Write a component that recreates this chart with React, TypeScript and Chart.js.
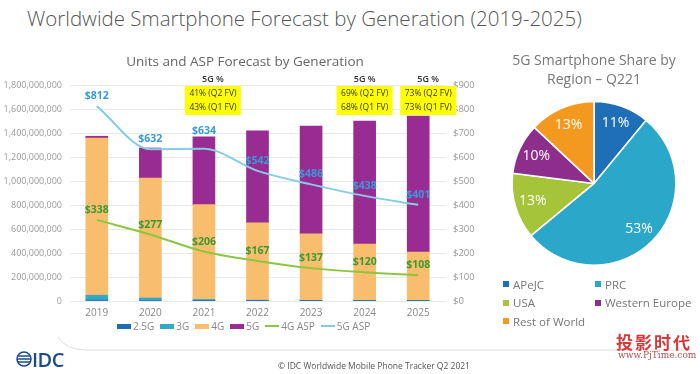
import React, { useEffect, useRef } from 'react';
import { Chart, registerables } from 'chart.js';

Chart.register(...registerables);
Chart.defaults.font.family = '"Open Sans", "DejaVu Sans", sans-serif';

// ---- data ----
const years = ['2019', '2020', '2021', '2022', '2023', '2024', '2025'];
// units in millions
const units25G = [8, 5, 3, 2, 2, 1, 1];
const units3G = [40, 20, 10, 5, 3, 2, 1];
const units4G = [1310, 1000, 790, 645, 555, 472, 405];
const units5G = [15, 250, 565, 767, 898, 1025, 1135];
const asp4G = [338, 277, 206, 167, 137, 120, 108];
const asp5G = [812, 632, 634, 542, 486, 438, 401];

const noteYears = ['2021', '2024', '2025'];
const noteQ2 = ['41% (Q2 FV)', '69% (Q2 FV)', '73% (Q2 FV)'];
const noteQ1 = ['43% (Q1 FV)', '68% (Q1 FV)', '73% (Q1 FV)'];
const noteShift = [9, 0, 10];

const regions = ['APeJC', 'PRC', 'USA', 'Western Europe', 'Rest of World'];
const regionShare = [11, 53, 13, 10, 13];

// ---- styles ----
const C25 = '#1f6db5';
const C3 = '#33a9c9';
const C4 = '#f9bd6e';
const C5 = '#992c93';
const CA4 = '#8cc63f';
const CA5 = '#86cde4';
const LBL4 = '#3d9a2f';
const LBL5 = '#3a9ad9';
const lift5G = [10, 10, 18, 10, 10, 10, 10];
const regionColors = ['#1e6fb8', '#2ba8c9', '#a6c43a', '#8d2d8c', '#f3991f'];

const legendItems = [
  { label: '2.5G', color: C25, line: false },
  { label: '3G', color: C3, line: false },
  { label: '4G', color: C4, line: false },
  { label: '5G', color: C5, line: false },
  { label: '4G ASP', color: CA4, line: true },
  { label: '5G ASP', color: CA5, line: true },
];

const aspLabelPlugin = {
  id: 'aspLabels',
  afterDatasetsDraw(chart: any) {
    const ctx = chart.ctx;
    chart.data.datasets.forEach((ds: any, i: number) => {
      if (ds.type !== 'line') return;
      const meta = chart.getDatasetMeta(i);
      const is5 = ds.label === '5G ASP';
      ctx.save();
      ctx.font = 'bold 10.5px "Open Sans", sans-serif';
      ctx.fillStyle = is5 ? LBL5 : LBL4;
      ctx.textAlign = 'center';
      ctx.textBaseline = 'middle';
      meta.data.forEach((pt: any, j: number) => {
        ctx.fillText('$' + ds.data[j], pt.x, pt.y - (is5 ? lift5G[j] : 10));
      });
      ctx.restore();
    });
  },
};

const notesPlugin = {
  id: 'notes',
  afterDraw(chart: any) {
    const { ctx, chartArea, scales } = chart;
    ctx.save();
    noteYears.forEach((yr, k) => {
      const cx = scales.x.getPixelForValue(years.indexOf(yr)) + noteShift[k];
      const top = chartArea.top + 1;
      ctx.fillStyle = '#ffff00';
      ctx.fillRect(cx - 28, top, 56, 29);
      ctx.fillStyle = '#333';
      ctx.textAlign = 'center';
      ctx.textBaseline = 'middle';
      ctx.font = '600 9px "Open Sans", sans-serif';
      ctx.fillText('5G %', cx, top - 7);
      ctx.font = '8.5px "Open Sans", sans-serif';
      ctx.fillText(noteQ2[k], cx, top + 8);
      ctx.fillText(noteQ1[k], cx, top + 22);
    });
    ctx.restore();
  },
};

const pieLabelPlugin = {
  id: 'pieLabels',
  afterDatasetsDraw(chart: any) {
    const ctx = chart.ctx;
    const meta = chart.getDatasetMeta(0);
    ctx.save();
    ctx.font = '14px "Open Sans", sans-serif';
    ctx.fillStyle = '#ffffff';
    ctx.textAlign = 'center';
    ctx.textBaseline = 'middle';
    meta.data.forEach((arc: any, j: number) => {
      const mid = (arc.startAngle + arc.endAngle) / 2;
      const r = arc.outerRadius * 0.78;
      ctx.fillText(regionShare[j] + '%', arc.x + Math.cos(mid) * r, arc.y + Math.sin(mid) * r);
    });
    ctx.restore();
  },
};

function BarChart() {
  const ref = useRef<HTMLCanvasElement>(null);
  useEffect(() => {
    const chart = new Chart(ref.current!, {
      type: 'bar',
      data: {
        labels: years,
        datasets: [
          { type: 'line', label: '4G ASP', data: asp4G, yAxisID: 'y1', borderColor: CA4, borderWidth: 2, pointRadius: 0, cubicInterpolationMode: 'monotone', order: 0 } as any,
          { type: 'line', label: '5G ASP', data: asp5G, yAxisID: 'y1', borderColor: CA5, borderWidth: 2, pointRadius: 0, cubicInterpolationMode: 'monotone', order: 0 } as any,
          { type: 'bar', label: '2.5G', data: units25G, yAxisID: 'y', backgroundColor: C25, barThickness: 22, order: 1 },
          { type: 'bar', label: '3G', data: units3G, yAxisID: 'y', backgroundColor: C3, barThickness: 22, order: 1 },
          { type: 'bar', label: '4G', data: units4G, yAxisID: 'y', backgroundColor: C4, barThickness: 22, order: 1 },
          { type: 'bar', label: '5G', data: units5G, yAxisID: 'y', backgroundColor: C5, barThickness: 22, order: 1 },
        ],
      },
      options: {
        responsive: false,
        animation: false,
        layout: { padding: 0 },
        plugins: {
          legend: { display: false },
          tooltip: { enabled: false },
          title: {
            display: true,
            text: 'Units and ASP Forecast by Generation',
            color: '#666',
            font: { size: 13.5, weight: 'normal', lineHeight: 1.2 },
            padding: { top: 9, bottom: 14.8 },
          },
        },
        scales: {
          x: {
            stacked: true,
            grid: { display: false, drawTicks: false },
            border: { display: false },
            ticks: { color: '#888', font: { size: 10 }, padding: 6 },
            afterFit: (s: any) => { s.height = 20; },
          },
          y: {
            stacked: true,
            min: 0,
            max: 1800,
            ticks: {
              stepSize: 200,
              color: '#999',
              font: { size: 9 },
              padding: 8,
              callback: (v: any) => (Number(v) * 1e6).toLocaleString('en-US'),
            },
            grid: { color: '#e8e8e8', drawTicks: false },
            border: { display: false },
            afterFit: (s: any) => { s.width = 70; },
          },
          y1: {
            position: 'right',
            min: 0,
            max: 900,
            ticks: { stepSize: 100, color: '#999', font: { size: 9.5 }, padding: 8, callback: (v: any) => '$' + v },
            grid: { drawOnChartArea: false, drawTicks: false },
            border: { display: false },
            afterFit: (s: any) => { s.width = 45; },
          },
        } as any,
      },
      plugins: [aspLabelPlugin, notesPlugin],
    });
    return () => chart.destroy();
  }, []);
  return <canvas ref={ref} width={490} height={276} style={{ position: 'absolute', left: 0, top: 45, width: 490, height: 276 }} />;
}

function PieChart() {
  const ref = useRef<HTMLCanvasElement>(null);
  useEffect(() => {
    const chart = new Chart(ref.current!, {
      type: 'pie',
      data: {
        labels: regions,
        datasets: [{ data: regionShare, backgroundColor: regionColors, borderColor: '#ffffff', borderWidth: 1.5 }],
      },
      options: {
        responsive: false,
        animation: false,
        layout: { padding: 0 },
        plugins: {
          legend: { display: false },
          tooltip: { enabled: false },
          title: {
            display: true,
            text: ['5G Smartphone Share by', 'Region \u2013 Q221'],
            color: '#777',
            font: { size: 14, weight: 'normal', lineHeight: 1.35 },
            padding: { top: 12, bottom: 11 },
          },
        },
      },
      plugins: [pieLabelPlugin],
    });
    return () => chart.destroy();
  }, []);
  return <canvas ref={ref} width={212} height={226} style={{ position: 'absolute', left: 488, top: 40, width: 212, height: 226 }} />;
}

export default function App() {
  const font = '"Open Sans", "DejaVu Sans", sans-serif';
  return (
    <div style={{ position: 'fixed', left: 0, top: 0, width: 700, height: 374, background: '#fff', overflow: 'hidden', fontFamily: font }}>
      <div style={{ position: 'absolute', left: 27, top: 4, fontSize: 20.5, color: '#555', fontWeight: 300, whiteSpace: 'nowrap' }}>
        Worldwide Smartphone Forecast by Generation (2019-2025)
      </div>
      <BarChart />
      <PieChart />
      {/* bar legend */}
      <div style={{ position: 'absolute', left: 117, top: 319, height: 14, display: 'flex', alignItems: 'center', fontSize: 10, color: '#888', whiteSpace: 'nowrap' }}>
        {legendItems.map((it) => (
          <div key={it.label} style={{ display: 'flex', alignItems: 'center', marginRight: 6 }}>
            <span style={{ display: 'inline-block', width: 14, height: it.line ? 2 : 5, background: it.color, marginRight: 2 }} />
            <span>{it.label}</span>
          </div>
        ))}
      </div>
      {/* pie legend */}
      {regions.map((r, i) => (
        <div key={r} style={{ position: 'absolute', left: i % 2 === 0 ? 503 : 595, top: 275 + Math.floor(i / 2) * 18.5, height: 18, display: 'flex', alignItems: 'center', fontSize: 11.5, color: '#777', whiteSpace: 'nowrap' }}>
          <span style={{ display: 'inline-block', width: 6, height: 6, background: regionColors[i], marginRight: 4 }} />
          <span>{r}</span>
        </div>
      ))}
      {/* footer */}
      <svg width={700} height={374} style={{ position: 'absolute', left: 0, top: 0, pointerEvents: 'none' }}>
        <path d="M 58 337 Q 66 350 86 350 L 692 350" stroke="#dcdcdc" strokeWidth={1} fill="none" />
        <g>
          <circle cx={24} cy={359} r={7} fill="none" stroke="#1b4b8a" strokeWidth={1.5} />
          <line x1={18} y1={356} x2={30} y2={356} stroke="#1b4b8a" strokeWidth={1.5} />
          <line x1={17} y1={359} x2={31} y2={359} stroke="#1b4b8a" strokeWidth={1.5} />
          <line x1={18} y1={362} x2={30} y2={362} stroke="#1b4b8a" strokeWidth={1.5} />
        </g>
      </svg>
      <div style={{ position: 'absolute', left: 32, top: 346, fontSize: 20, fontWeight: 600, color: '#1b4b8a', letterSpacing: -0.5 }}>IDC</div>
      <div style={{ position: 'absolute', left: 0, width: 748, top: 360, textAlign: 'center', fontSize: 8.5, color: '#555' }}>
        © IDC Worldwide Mobile Phone Tracker Q2 2021
      </div>
      <div style={{ position: 'absolute', left: 616, top: 329, fontSize: 17, fontWeight: 700, color: '#d9383a', letterSpacing: 2, fontFamily: '"Noto Sans CJK SC", sans-serif' }}>投影时代</div>
      <div style={{ position: 'absolute', left: 618, top: 350, fontSize: 9, color: '#b0504f', fontFamily: '"DejaVu Serif", serif' }}>www.PjTime.com</div>
    </div>
  );
}
